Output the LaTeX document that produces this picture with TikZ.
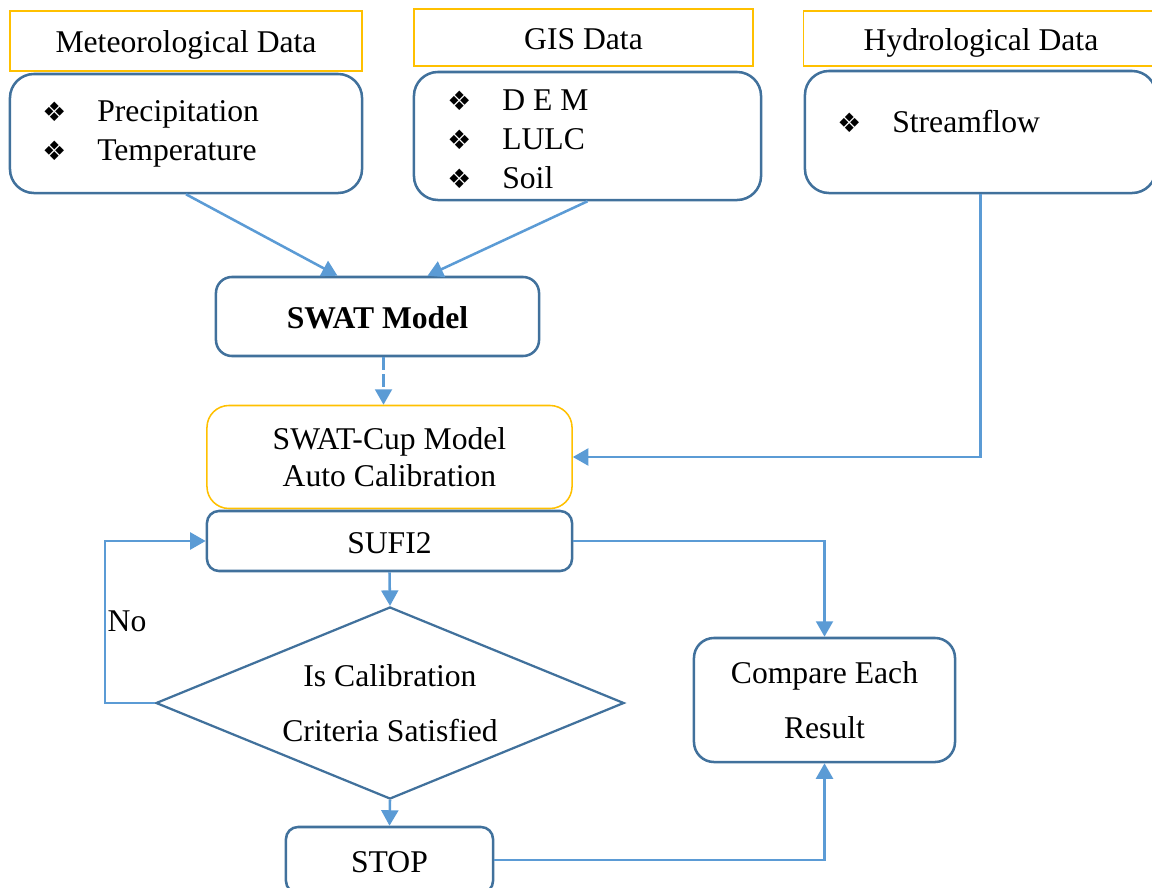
\documentclass[tikz,border=0pt]{standalone}
\usepackage{fontspec}
\setmainfont{Liberation Serif}
\newfontfamily\symfont{DejaVu Sans}
\usetikzlibrary{arrows.meta}
\usetikzlibrary{shapes.geometric}

\definecolor{gold}{HTML}{FFC000}
\definecolor{boxblue}{HTML}{41719C}
\definecolor{lineblue}{HTML}{5B9BD5}

% bullet with fixed gap before the item text
\newcommand{\itm}{\makebox[1.375cm][l]{\symfont\fontsize{19}{19}\selectfont ❖}}

\begin{document}
\begin{tikzpicture}[x=0.025cm,y=-0.025cm,
    font=\fontsize{22.5}{27.7}\selectfont,
    >={Triangle[length=11pt,width=12pt]},
    headbox/.style={draw=gold,line width=1.1pt,inner sep=0pt,text height=17pt,text depth=0.6pt},
    roundbox/.style={draw=boxblue,line width=1.8pt,inner sep=0pt,align=center},
    oneline/.style={text height=17.5pt,text depth=0pt},
    listtext/.style={inner sep=0pt,anchor=west,align=left},
    flow/.style={draw=lineblue,line width=1.8pt,->}]
  \useasboundingbox (0,0) rectangle (1152,888);

  % input data
  \node[headbox,minimum width=8.8cm,minimum height=1.5cm] (methead) at (186,41) {Meteorological Data};
  \node[roundbox,rounded corners=0.6cm,minimum width=8.8cm,minimum height=2.975cm] (metbox) at (186,133.5) {};
  \node[listtext] (metlist) at (42,134) {\itm Precipitation\\\itm Temperature};

  \node[headbox,minimum width=8.475cm,minimum height=1.425cm] (gishead) at (583.5,37.5) {GIS Data};
  \node[roundbox,rounded corners=0.6cm,minimum width=8.675cm,minimum height=3.2cm] (gisbox) at (587.5,136) {};
  \node[listtext] (gislist) at (447,139) {\itm D E M\\\itm LULC\\\itm Soil};

  \node[headbox,minimum width=8.875cm,minimum height=1.375cm] (hydhead) at (981,38.5) {Hydrological Data};
  \node[roundbox,rounded corners=0.6cm,minimum width=8.775cm,minimum height=3.05cm] (hydbox) at (980.5,132) {};
  \node[listtext] (hydlist) at (837,122) {\itm Streamflow};

  % model and calibration
  \node[roundbox,oneline,rounded corners=0.4cm,minimum width=8.075cm,minimum height=1.975cm,font=\fontsize{22.5}{27.7}\selectfont\bfseries] (swat) at (377.5,316.5) {SWAT Model};
  \node[roundbox,draw=gold,line width=1.1pt,rounded corners=0.55cm,minimum width=9.125cm,minimum height=2.575cm,font=\fontsize{22.5}{26.3}\selectfont] (cup) at (389.5,457) {SWAT-Cup Model\\Auto Calibration};
  \node[roundbox,oneline,rounded corners=0.3cm,minimum width=9.125cm,minimum height=1.5cm] (sufi) at (389.5,541) {SUFI2};
  \node[diamond,roundbox,line width=1.6pt,aspect=2.44,minimum width=11.7cm,minimum height=4.8cm] (check) at (390,703) {Is Calibration\\[11pt]Criteria Satisfied};
  \node[roundbox,oneline,rounded corners=0.3cm,minimum width=5.175cm,minimum height=1.65cm] (stop) at (389.5,860) {STOP};
  \node[roundbox,rounded corners=0.5cm,minimum width=6.525cm,minimum height=3.1cm] (comp) at (824.5,700) {Compare Each\\[11pt]Result};
  \node (no) at (127,621) {No};

  % connectors
  \draw[flow] (metbox.south) -- ([xshift=-1cm]swat.north);
  \draw[flow] (gisbox.south) -- ([xshift=1.25cm]swat.north);
  \draw[flow,dash pattern=on 9pt off 3pt] ([xshift=0.15cm]swat.south) -- ([xshift=0.15cm]swat.south |- cup.north);
  \draw[flow] (hydbox.south) |- (cup.east);
  \draw[flow] (sufi.south) -- (check.north);
  \draw[flow] (check.west) -- ++(-50,0) |- (sufi.west);
  \draw[flow] (sufi.east) -| (comp.north);
  \draw[flow] (check.south) -- (stop.north);
  \draw[flow] (stop.east) -| (comp.south);
\end{tikzpicture}
\end{document}
